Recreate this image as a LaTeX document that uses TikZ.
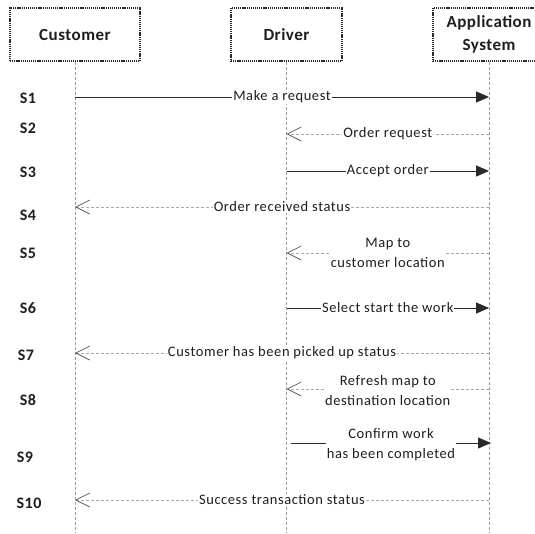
\documentclass[tikz,border=0pt]{standalone}
\usepackage{fontspec}
\setmainfont{Carlito}
\newfontfamily\msgfont[LetterSpace=4]{Carlito}
\newfontfamily\hdrfont[LetterSpace=3]{Carlito}
\newfontfamily\rowfont[LetterSpace=3]{Carlito}
\usetikzlibrary{arrows.meta}
\definecolor{inkc}{HTML}{1E1E1E}
\definecolor{linec}{HTML}{2A2A2A}
\definecolor{dashc}{HTML}{A8A8A8}
\definecolor{barbc}{HTML}{555555}
\definecolor{lifec}{HTML}{9A9A9A}
\tikzset{
  actor/.style={draw=linec, line width=1.2pt, dash pattern=on 1.2pt off 0.9pt,
    minimum height=53pt, inner sep=0pt, align=center, text=inkc,
    font=\hdrfont\bfseries\fontsize{17}{23}\selectfont},
  lifeline/.style={draw=lifec, line width=0.6pt, dash pattern=on 3pt off 2pt},
  syncmsg/.style={draw=linec, line width=0.9pt,
    -{Triangle[length=13pt,width=11pt]}},
  retmsg/.style={draw=dashc, line width=0.7pt, dash pattern=on 3pt off 2pt,
    -{Straight Barb[length=14pt,width=14pt,line width=0.7pt,color=barbc]}},
  msg/.style={fill=white, inner sep=1pt, align=center, text=inkc,
    font=\msgfont\fontsize{14.5}{19.5}\selectfont},
  rowlbl/.style={inner sep=0pt, text=inkc,
    font=\rowfont\bfseries\fontsize{16}{18}\selectfont}
}
\begin{document}
\begin{tikzpicture}[x=1pt,y=-1pt]
\clip (0,0) rectangle (535,533);
\fill[white] (0,0) rectangle (535,533);
% participants
\node[actor, minimum width=130pt] (cust) at (75,34.5) {Customer};
\node[actor, minimum width=111pt] (drv) at (286.5,34.5) {Driver};
\node[actor, minimum width=112pt] (app) at (489,34.5) {Application\\System};
% lifeline ends
\coordinate (custEnd) at (75,533);
\coordinate (drvEnd) at (286.5,533);
\coordinate (appEnd) at (489,533);
\draw[lifeline] (cust.south) -- (custEnd);
\draw[lifeline] (drv.south) -- (drvEnd);
\draw[lifeline] (app.south) -- (appEnd);
% message end points
\coordinate (c1) at (75,97);    \coordinate (a1) at (489,97);
\coordinate (d2) at (286.5,134); \coordinate (a2) at (489,134);
\coordinate (d3) at (286.5,171); \coordinate (a3) at (489,171);
\coordinate (c4) at (75,207);   \coordinate (a4) at (489,207);
\coordinate (d5) at (286.5,253); \coordinate (a5) at (489,253);
\coordinate (d6) at (286.5,308); \coordinate (a6) at (489,308);
\coordinate (c7) at (75,353);   \coordinate (a7) at (489,353);
\coordinate (d8) at (286.5,389); \coordinate (a8) at (489,389);
\coordinate (d9) at (291,443);  \coordinate (a9) at (491,443);
\coordinate (c10) at (75,500);  \coordinate (a10) at (489,500);
% messages
\draw[syncmsg] (c1) -- node[msg] (m1) {Make a request} (a1);
\draw[retmsg] (a2) -- node[msg] (m2) {Order request} (d2);
\draw[syncmsg] (d3) -- node[msg] (m3) {Accept order} (a3);
\draw[retmsg] (a4) -- node[msg] (m4) {Order received status} (c4);
\draw[retmsg] (a5) -- node[msg] (m5) {Map to\\customer location} (d5);
\draw[syncmsg] (d6) -- node[msg] (m6) {Select start the work} (a6);
\draw[retmsg] (a7) -- node[msg] (m7) {Customer has been picked up status} (c7);
\draw[retmsg] (a8) -- node[msg, yshift=-1.5pt] (m8) {Refresh map to\\destination location} (d8);
\draw[syncmsg] (d9) -- node[msg, yshift=-1.5pt] (m9) {Confirm work\\has been completed} (a9);
\draw[retmsg] (a10) -- node[msg] (m10) {Success transaction status} (c10);
% step labels
\node[rowlbl] (s1) at (28,98) {S1};
\node[rowlbl] (s2) at (28,128) {S2};
\node[rowlbl] (s3) at (28,172) {S3};
\node[rowlbl] (s4) at (28,215) {S4};
\node[rowlbl] (s5) at (28,253) {S5};
\node[rowlbl] (s6) at (28,308) {S6};
\node[rowlbl] (s7) at (26,355) {S7};
\node[rowlbl] (s8) at (28,400) {S8};
\node[rowlbl] (s9) at (25,457) {S9};
\node[rowlbl] (s10) at (29,503) {S10};
\end{tikzpicture}
\end{document}
